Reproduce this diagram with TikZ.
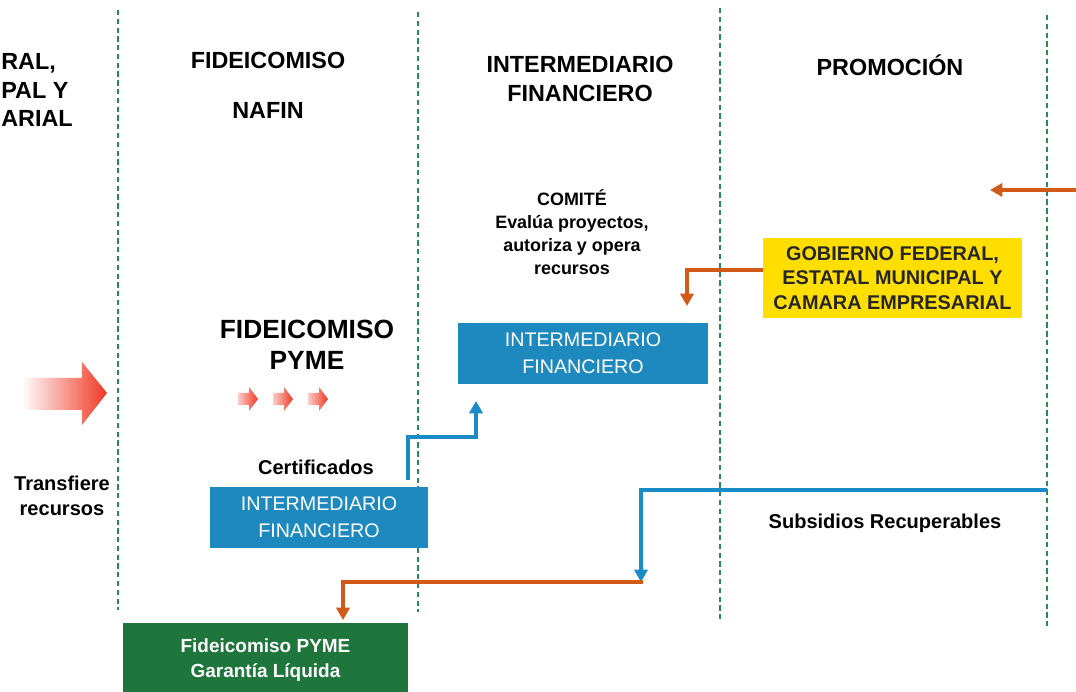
\documentclass[tikz,border=0pt]{standalone}
\usepackage{fontspec}
\setmainfont{Liberation Sans}
\usetikzlibrary{arrows.meta}

\definecolor{colgreen}{RGB}{40,140,80}
\definecolor{ifblue}{RGB}{30,137,190}
\definecolor{linkblue}{RGB}{25,140,200}
\definecolor{linkorange}{RGB}{210,90,25}
\definecolor{govyellow}{RGB}{255,222,0}
\definecolor{pymegreen}{RGB}{30,118,60}
\definecolor{arrowred}{RGB}{240,55,35}

\tikzset{
    column/.style={dashed, dash pattern=on 3pt off 2pt, draw=colgreen, line width=0.6pt},
    headtext/.style={font=\fontsize{13.3}{16.5}\selectfont\bfseries, align=center, inner sep=0pt},
    bigtext/.style={font=\fontsize{15}{17.5}\selectfont\bfseries, align=center, inner sep=0pt},
    plaintext/.style={font=\fontsize{11.4}{14.5}\selectfont\bfseries, align=center, inner sep=0pt},
    comitetext/.style={font=\fontsize{10.2}{13}\selectfont\bfseries, align=center, inner sep=0pt},
    bluebox/.style={fill=ifblue, text=white, font=\fontsize{11.2}{15.5}\selectfont, align=center, inner sep=0pt},
    yellowbox/.style={fill=govyellow, text=black!85, font=\fontsize{11.3}{14}\selectfont\bfseries, align=center, inner sep=0pt, minimum width=5.18cm, minimum height=1.6cm},
    greenbox/.style={fill=pymegreen, text=white, font=\fontsize{10.8}{14}\selectfont\bfseries, align=center, inner sep=0pt, minimum width=5.7cm, minimum height=1.48cm},
    orangelink/.style={draw=linkorange, line width=2.3pt, -{Triangle[length=7pt,width=7.5pt]}},
    bluelink/.style={draw=linkblue, line width=2.3pt, -{Triangle[length=7pt,width=7.5pt]}}
}

\begin{document}
\begin{tikzpicture}[x=0.02cm, y=-0.02cm]

        \useasboundingbox (0,0) rectangle (1076,692);

        % columns
            \draw[column] (118,10) -- (118,610);
            \draw[column] (418,12) -- (418,612);
            \draw[column] (720,8) -- (720,622);
            \draw[column] (1047,15) -- (1047,628);

        % headings
            \node[headtext, anchor=west] (gob1) at (1,63) {RAL,};
            \node[headtext, anchor=west] (gob2) at (1,90) {PAL Y};
            \node[headtext, anchor=west] (gob3) at (1,118) {ARIAL};
            \node[headtext] (nafin) at (268,85) {FIDEICOMISO\\[12pt]NAFIN};
            \node[headtext] (interm) at (580,79) {INTERMEDIARIO\\FINANCIERO};
            \node[headtext] (promo) at (890,65) {PROMOCI\'ON};

        % transfer arrows
            \shade[left color=white, right color=arrowred] (22,378) -- (82,378) -- (82,362) -- (107,393) -- (82,425) -- (82,410) -- (22,410) -- cycle;
            \foreach \x in {238,273,308}
                \shade[left color=arrowred!25, right color=arrowred] (\x,393) -- (\x+11,393) -- (\x+11,387) -- (\x+20,399) -- (\x+11,411) -- (\x+11,405) -- (\x,405) -- cycle;

        % texts
            \node[bigtext] (pyme) at (307,345) {FIDEICOMISO\\PYME};
            \node[plaintext] (transf) at (62,496) {Transfiere\\recursos};
            \node[plaintext] (certif) at (316,467) {Certificados};
            \node[comitetext] (comite) at (572,232) {COMIT\'E\\Eval\'ua proyectos,\\autoriza y opera\\recursos};
            \node[plaintext] (subsid) at (885,523) {Subsidios Recuperables};

        % boxes
            \node[bluebox, minimum width=4.36cm, minimum height=1.22cm] (ifa) at (319,517.5) {INTERMEDIARIO\\FINANCIERO};
            \node[bluebox, minimum width=5cm, minimum height=1.22cm] (ifb) at (583,353.5) {INTERMEDIARIO\\FINANCIERO};
            \node[yellowbox] (gob) at (892.5,278) {GOBIERNO FEDERAL,\\ESTATAL MUNICIPAL Y\\CAMARA EMPRESARIAL};
            \node[greenbox] (garantia) at (265.5,660) {Fideicomiso PYME\\Garant\'ia L\'iquida};

        % connectors
            \coordinate (topin) at (1076,190);
            \coordinate (topend) at (990,190);
            \coordinate (gobtip) at (687,306);
            \coordinate (certbase) at (408,480);
            \coordinate (ifbtip) at (476,401);
            \coordinate (subsidin) at (1047,490);
            \coordinate (subsidbend) at (641,582);
            \coordinate (garantiatip) at (343,620);

            \draw[orangelink] (topin) -- (topend);
            \draw[orangelink] (gob.west |- 0,270) -| (gobtip);
            \draw[bluelink] (certbase) |- (476,437) -- (ifbtip);
            \draw[bluelink] (subsidin) -| (subsidbend);
            \draw[orangelink] ([xshift=1pt]subsidbend) -| (garantiatip);
        \end{tikzpicture}
\end{document}
